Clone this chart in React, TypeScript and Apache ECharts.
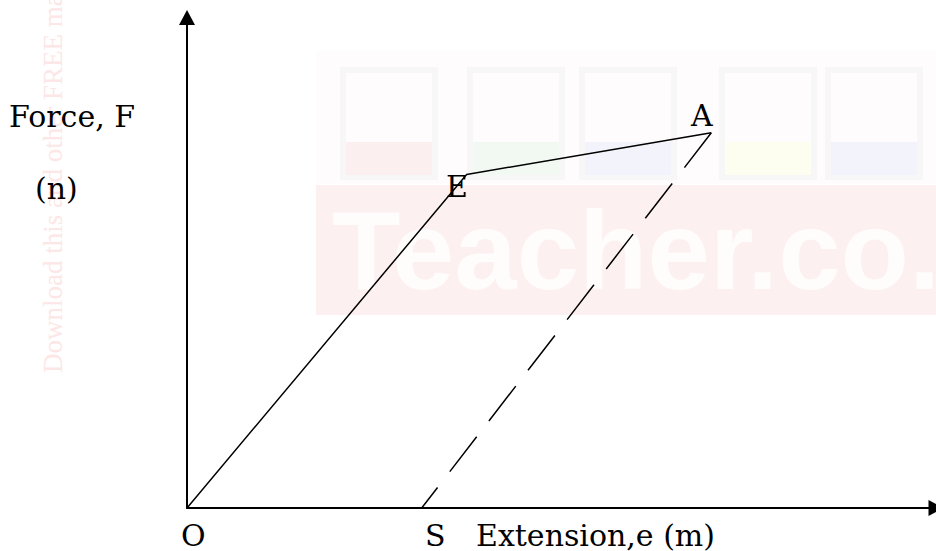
import React, { useEffect, useRef } from "react";
import * as echarts from "echarts";

// Force–extension path (arbitrary units)
const loadingX = [0, 11.2, 21.0]; // O, E, A
const loadingY = [0, 13.6, 15.3];
const unloadingX = [21.0, 9.4]; // A, S
const unloadingY = [15.3, 0];
const xMax = 30;
const yMax = 20;
const pointNames = ["O", "E", "A", "S"];
const xAxisTitle = "Extension,e (m)";
const yAxisTitle = ["Force, F", "(n)"];
const watermarkText = "Teacher.co.";
const sideText = "Download this and other FREE materials from https://teacher.co.ke";

export default function App() {
  const ref = useRef<HTMLDivElement>(null);

  useEffect(() => {
    const chart = echarts.init(ref.current!, null, { renderer: "svg" });
    const serif = "DejaVu Serif";
    const label = (text: string, x: number, y: number) => ({
      type: "text",
      x,
      y,
      z: 10,
      silent: true,
      style: {
        text,
        fill: "#000",
        fontFamily: serif,
        fontSize: 30,
        textAlign: "left",
        textVerticalAlign: "middle",
      },
    });
    const sq = (x: number, col: string) => [
      {
        type: "rect",
        z: 0,
        silent: true,
        shape: { x, y: 70, width: 92, height: 107 },
        style: { fill: "rgba(255,255,255,0)", stroke: "#f7f7f7", lineWidth: 6 },
      },
      {
        type: "rect",
        z: 0,
        silent: true,
        shape: { x: x + 3, y: 142, width: 86, height: 33 },
        style: { fill: col },
      },
    ];

    const loadData = loadingX.map((x, i) => [x, loadingY[i]]);
    const unloadData = unloadingX.map((x, i) => [x, unloadingY[i]]);

    const axisLine = {
      show: true,
      symbol: ["none", "triangle"],
      symbolSize: [16, 15],
      lineStyle: { color: "#000", width: 2 },
    };

    chart.setOption({
      animation: false,
      backgroundColor: "#fff",
      grid: { left: 187, top: 17.5, width: 750, height: 490.5 },
      xAxis: {
        type: "value",
        min: 0,
        max: xMax,
        axisLine,
        axisTick: { show: false },
        axisLabel: { show: false },
        splitLine: { show: false },
      },
      yAxis: {
        type: "value",
        min: 0,
        max: yMax,
        axisLine,
        axisTick: { show: false },
        axisLabel: { show: false },
        splitLine: { show: false },
      },
      series: [
        {
          type: "line",
          data: loadData,
          symbol: "none",
          z: 5,
          lineStyle: { color: "#000", width: 1.5 },
        },
        {
          type: "line",
          data: unloadData,
          symbol: "none",
          z: 5,
          lineStyle: { color: "#000", width: 1.5, type: [44, 20] },
        },
      ],
      graphic: [
        // faint watermark
        {
          type: "rect",
          z: 0,
          silent: true,
          shape: { x: 316, y: 50, width: 620, height: 134 },
          style: { fill: "#fefcfc" },
        },
        ...sq(343, "#fcefef"),
        ...sq(470, "#f2f9f3"),
        ...sq(582, "#f3f3fb"),
        ...sq(722, "#fefef0"),
        ...sq(828, "#f3f3fb"),
        {
          type: "rect",
          z: 0,
          silent: true,
          shape: { x: 316, y: 185, width: 620, height: 130 },
          style: { fill: "#fdf0f0" },
        },
        {
          type: "text",
          x: 332,
          y: 250,
          z: 1,
          silent: true,
          style: {
            text: watermarkText,
            fill: "#fffcfc",
            fontFamily: "Liberation Sans",
            fontWeight: "bold",
            fontSize: 112,
            textAlign: "left",
            textVerticalAlign: "middle",
          },
        },
        {
          type: "text",
          x: 53,
          y: 373,
          rotation: Math.PI / 2,
          z: 1,
          silent: true,
          style: {
            text: sideText,
            fill: "#fde6e6",
            fontFamily: "Liberation Serif",
            fontSize: 27,
            textAlign: "left",
            textVerticalAlign: "middle",
          },
        },
        // axis titles
        label(yAxisTitle[0], 9, 116),
        label(yAxisTitle[1], 35, 188),
        label(xAxisTitle, 476, 535),
        // point names
        label(pointNames[0], 181, 535),
        label(pointNames[1], 446, 186),
        label(pointNames[2], 691, 115),
        label(pointNames[3], 425, 535),
      ],
    });
    return () => chart.dispose();
  }, []);

  return (
    <div
      ref={ref}
      style={{ position: "fixed", left: 0, top: 0, width: 936, height: 551 }}
    />
  );
}
